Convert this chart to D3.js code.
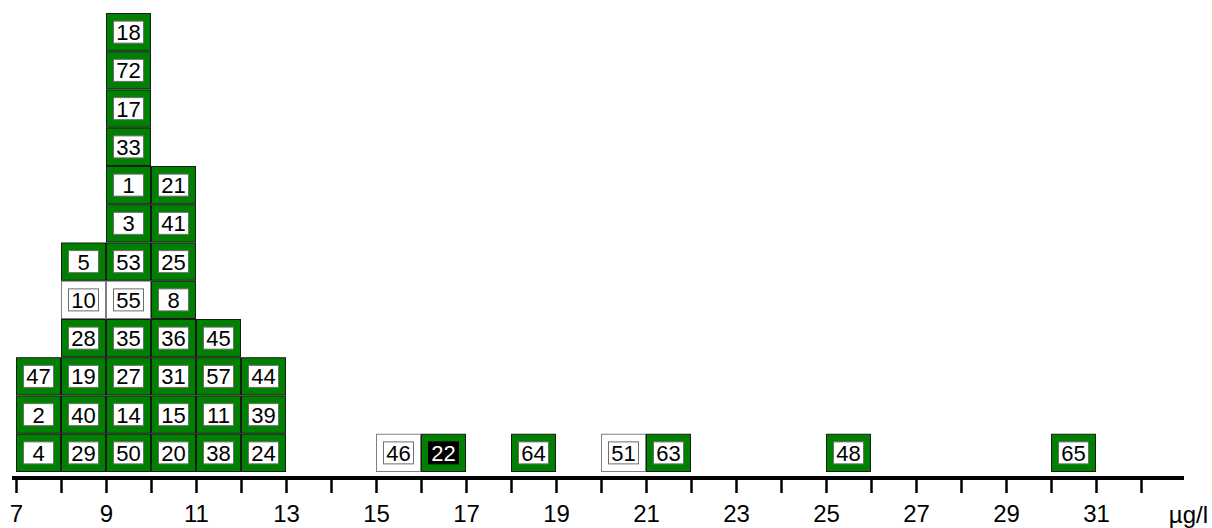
<!DOCTYPE html>
<html>
<head>
<meta charset="utf-8">
<script src="https://cdn.jsdelivr.net/npm/d3@7"></script>
<style>
  body { margin: 0; background: #fff; }
  svg { display: block; font-family: Arial, "Liberation Sans", sans-serif; }
</style>
</head>
<body>
<div id="chart"></div>
<script>
// data: sample id, bin start (µg/l), and box kind
var labels = [4, 2, 47,
              29, 40, 19, 28, 10, 5,
              50, 14, 27, 35, 55, 53, 3, 1, 33, 17, 72, 18,
              20, 15, 31, 36, 8, 25, 41, 21,
              38, 11, 57, 45,
              24, 39, 44,
              46, 22, 64, 51, 63, 48, 65];
var bins   = [7, 7, 7,
              8, 8, 8, 8, 8, 8,
              9, 9, 9, 9, 9, 9, 9, 9, 9, 9, 9, 9,
              10, 10, 10, 10, 10, 10, 10, 10,
              11, 11, 11, 11,
              12, 12, 12,
              15, 16, 18, 20, 21, 25, 30];
// kinds: g = green, w = white (excluded), b = green with black label
var kinds  = ["g","g","g",
              "g","g","g","g","w","g",
              "g","g","g","g","w","g","g","g","g","g","g","g",
              "g","g","g","g","g","g","g","g",
              "g","g","g","g",
              "g","g","g",
              "w","b","g","w","g","g","g"];
var tickValues = d3.range(7, 33);
var unit = "µg/l";

var W = 1212, H = 528;
var svg = d3.select("#chart").append("svg")
  .attr("width", W)
  .attr("height", H);

var x = d3.scaleLinear().domain([7, 32]).range([16, 1141]);
var y = d3.scaleLinear().domain([0, 12]).range([472, 13]);

// stack boxes per bin
var counts = {};
var boxes = labels.map(function(l, i){
  var b = bins[i];
  counts[b] = (counts[b] || 0);
  var row = counts[b];
  counts[b] += 1;
  return {label: l, bin: b, kind: kinds[i], row: row};
});

var cells = svg.append("g").attr("id", "cells");

var g = cells.selectAll("g.box")
  .data(boxes)
  .enter().append("g")
  .attr("class", "box")
  .attr("transform", function(d){
    return "translate(" + x(d.bin) + "," + y(d.row + 1) + ")";
  });

var bw = x(8) - x(7);
var bh = y(0) - y(1);

g.append("rect")
  .attr("x", 0.5)
  .attr("y", 0.5)
  .attr("width", bw - 1)
  .attr("height", bh - 1)
  .style("fill", function(d){ return d.kind == "w" ? "white" : "#008000"; })
  .style("stroke", function(d){ return d.kind == "w" ? "#808080" : "#1a1a1a"; })
  .style("stroke-width", 1);

var iw = 30, ih = 22;
g.append("rect")
  .attr("x", (bw - iw) / 2)
  .attr("y", (bh - ih) / 2)
  .attr("width", iw)
  .attr("height", ih)
  .style("fill", function(d){ return d.kind == "b" ? "black" : "white"; })
  .style("stroke", function(d){ return d.kind == "b" ? "black" : "#6e6e6e"; })
  .style("stroke-width", 1);

g.append("text")
  .attr("x", bw / 2)
  .attr("y", bh / 2 + 8)
  .attr("text-anchor", "middle")
  .attr("font-size", "22px")
  .attr("fill", function(d){ return d.kind == "b" ? "white" : "black"; })
  .text(function(d){ return d.label; });

// axis
var axis = d3.axisBottom(x)
  .tickValues(tickValues)
  .tickSize(15)
  .tickPadding(12)
  .tickFormat(function(d){ return d % 2 == 1 ? d : ""; });

var ax = svg.append("g")
  .attr("transform", "translate(0,478)")
  .call(axis);
ax.attr("font-size", null).attr("font-family", null);
ax.select(".domain").remove();
ax.selectAll(".tick line").style("stroke", "black").style("stroke-width", 2.5);
ax.selectAll(".tick text")
  .style("font-size", "24px")
  .style("font-family", "Arial, 'Liberation Sans', sans-serif")
  .attr("fill", "black");

svg.append("line")
  .attr("x1", 12)
  .attr("x2", 1184)
  .attr("y1", 478)
  .attr("y2", 478)
  .style("stroke", "black")
  .style("stroke-width", 4);

svg.append("text")
  .attr("x", 1208)
  .attr("y", 523)
  .attr("text-anchor", "end")
  .attr("font-size", "24px")
  .text(unit);
</script>
</body>
</html>
